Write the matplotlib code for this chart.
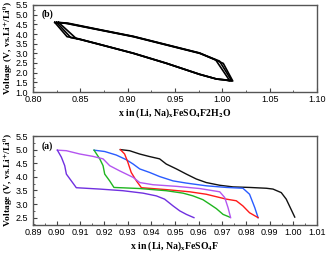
import matplotlib
matplotlib.use("Agg")
import matplotlib.pyplot as plt
from matplotlib.ticker import MultipleLocator, FormatStrFormatter

# ---- Panel (b): FeSO4F.2H2O cycles (closed loops) ----
b_c1_x = [0.823, 0.835, 0.870, 0.906, 0.941, 0.976, 0.993, 1.008, 1.003, 0.994, 0.976, 0.941, 0.906, 0.870, 0.846, 0.836, 0.823]
b_c1_v = [4.60, 4.55, 4.21, 3.86, 3.43, 3.00, 2.66, 1.57, 1.62, 1.67, 1.91, 2.48, 3.00, 3.47, 3.78, 3.86, 4.60]
b_c2_x = [0.825, 0.836, 0.870, 0.906, 0.941, 0.976, 0.997, 1.010, 1.004, 0.994, 0.976, 0.941, 0.906, 0.870, 0.848, 0.840, 0.825]
b_c2_v = [4.60, 4.55, 4.22, 3.87, 3.44, 3.01, 2.60, 1.57, 1.62, 1.67, 1.91, 2.48, 3.00, 3.46, 3.74, 3.81, 4.60]
b_c3_x = [0.827, 0.837, 0.870, 0.906, 0.941, 0.976, 1.001, 1.011, 1.005, 0.994, 0.976, 0.941, 0.906, 0.870, 0.850, 0.846, 0.827]
b_c3_v = [4.60, 4.56, 4.23, 3.88, 3.45, 3.02, 2.48, 1.57, 1.62, 1.67, 1.92, 2.49, 3.01, 3.47, 3.72, 3.75, 4.60]

# ---- Panel (a): FeSO4F curves ----
black_x = [0.9269, 0.9308, 0.9350, 0.9390, 0.9435, 0.9463, 0.9506, 0.9548, 0.9590, 0.9632, 0.9689, 0.9745, 0.9815, 0.9886, 0.9914, 0.9949, 0.9970, 1.0006]
black_v = [5.00, 4.96, 4.84, 4.75, 4.66, 4.47, 4.29, 4.10, 3.92, 3.79, 3.69, 3.63, 3.61, 3.58, 3.55, 3.42, 3.18, 2.52]
blue_x = [0.9158, 0.9203, 0.9252, 0.9294, 0.9323, 0.9351, 0.9393, 0.9435, 0.9492, 0.9548, 0.9632, 0.9717, 0.9787, 0.9815, 0.9837, 0.9851]
blue_v = [4.98, 4.93, 4.80, 4.63, 4.47, 4.29, 4.16, 4.01, 3.85, 3.77, 3.67, 3.61, 3.58, 3.36, 2.87, 2.50]
red_x = [0.9269, 0.9287, 0.9301, 0.9315, 0.9337, 0.9358, 0.9463, 0.9562, 0.9632, 0.9717, 0.9759, 0.9787, 0.9815, 0.9851]
red_v = [5.00, 4.84, 4.53, 4.16, 3.85, 3.60, 3.53, 3.45, 3.36, 3.18, 3.12, 2.93, 2.68, 2.50]
green_x = [0.9158, 0.9182, 0.9196, 0.9203, 0.9224, 0.9242, 0.9351, 0.9463, 0.9534, 0.9576, 0.9618, 0.9646, 0.9675, 0.9703, 0.9731]
green_v = [4.98, 4.66, 4.41, 4.10, 3.85, 3.61, 3.57, 3.49, 3.40, 3.30, 3.16, 3.00, 2.83, 2.62, 2.52]
violet_x = [0.9003, 0.9041, 0.9097, 0.9154, 0.9196, 0.9224, 0.9266, 0.9323, 0.9351, 0.9407, 0.9506, 0.9604, 0.9689, 0.9710, 0.9724, 0.9735]
violet_v = [4.98, 4.96, 4.84, 4.75, 4.66, 4.41, 4.22, 3.98, 3.79, 3.71, 3.65, 3.57, 3.45, 3.24, 2.87, 2.50]
purple_x = [0.9003, 0.9020, 0.9034, 0.9041, 0.9062, 0.9083, 0.9182, 0.9280, 0.9365, 0.9421, 0.9456, 0.9492, 0.9520, 0.9548, 0.9580]
purple_v = [4.98, 4.72, 4.41, 4.10, 3.85, 3.60, 3.55, 3.49, 3.40, 3.30, 3.18, 2.93, 2.75, 2.62, 2.50]

plt.rcParams['mathtext.fontset'] = 'stix'
plt.rcParams['mathtext.default'] = 'bf'

fig = plt.figure(figsize=(3.31, 2.54), dpi=100)
ax_b = fig.add_axes([33/331, 1-92/254, 284/331, 87/254])
ax_a = fig.add_axes([33/331, 1-225/254, 284/331, 89/254])

lab_font = dict(family='Liberation Serif', fontweight='bold', fontsize=7)
ylab_font = dict(family='Liberation Serif', fontweight='bold', fontsize=6.8)
tick_font = 'Liberation Sans'

for xs, vs in [(b_c1_x, b_c1_v), (b_c2_x, b_c2_v), (b_c3_x, b_c3_v)]:
    ax_b.plot(xs, vs, color='black', lw=1.2)

series = [(black_x, black_v, '#111111'), (blue_x, blue_v, '#2a5cff'), (red_x, red_v, '#ff1a1a'),
          (green_x, green_v, '#1fb51f'), (violet_x, violet_v, '#b455f0'), (purple_x, purple_v, '#7030e0')]
for xs, vs, c in series:
    ax_a.plot(xs, vs, color=c, lw=1.0)

ax_b.set_xlim(0.80, 1.10)
ax_b.set_ylim(1.0, 5.5)
ax_b.xaxis.set_major_locator(MultipleLocator(0.05))
ax_b.xaxis.set_minor_locator(MultipleLocator(0.025))
ax_b.yaxis.set_major_locator(MultipleLocator(0.5))
ax_b.yaxis.set_minor_locator(MultipleLocator(0.25))
ax_b.xaxis.set_major_formatter(FormatStrFormatter('%.2f'))
ax_b.yaxis.set_major_formatter(FormatStrFormatter('%.1f'))

ax_a.set_xlim(0.89, 1.01)
ax_a.set_ylim(2.23, 5.5)
ax_a.xaxis.set_major_locator(MultipleLocator(0.01))
ax_a.xaxis.set_minor_locator(MultipleLocator(0.005))
ax_a.yaxis.set_major_locator(MultipleLocator(0.5))
ax_a.yaxis.set_minor_locator(MultipleLocator(0.25))
ax_a.xaxis.set_major_formatter(FormatStrFormatter('%.2f'))
ax_a.yaxis.set_major_formatter(FormatStrFormatter('%.1f'))

for ax in (ax_a, ax_b):
    ax.tick_params(which='major', direction='in', length=3, width=0.8,
                   labelsize=6.5, color='#444444')
    ax.tick_params(axis='x', which='major', pad=2.5)
    ax.tick_params(axis='y', which='major', pad=3.5)
    ax.tick_params(which='minor', direction='in', length=1.5, width=0.6, color='#444444')
    for lbl in ax.get_xticklabels() + ax.get_yticklabels():
        lbl.set_fontfamily(tick_font)
    for sp in ax.spines.values():
        sp.set_color('#555555')
        sp.set_linewidth(1.0)
    ax.set_ylabel(r'Voltage (V, vs.Li$^{+}$/Li$^{0}$)', **ylab_font)
    ax.yaxis.set_label_coords(-0.064, 0.5)

ax_b.set_xlabel(r'x in (Li, Na)$_{x}$FeSO$_{4}$F2H$_{2}$O', **lab_font)
ax_b.xaxis.set_label_coords(0.5, -0.165)
ax_a.set_xlabel(r'x in (Li, Na)$_{x}$FeSO$_{4}$F', **lab_font)
ax_a.xaxis.set_label_coords(0.5, -0.16)

ax_b.text(0.03, 0.87, '(b)', transform=ax_b.transAxes, **lab_font)
ax_a.text(0.03, 0.86, '(a)', transform=ax_a.transAxes, **lab_font)

fig.savefig('out.png', dpi=100)
